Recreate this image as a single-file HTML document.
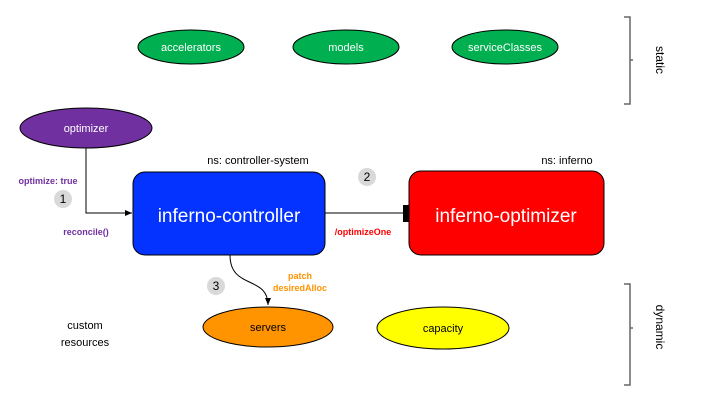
<!DOCTYPE html>
<html><head><meta charset="utf-8"><style>body{margin:0;background:#fff}svg{display:block}text{font-family:"Liberation Sans",Arial,sans-serif}</style></head><body>
<svg width="720" height="405" viewBox="0 0 720 405" xmlns="http://www.w3.org/2000/svg">
<defs><marker id="a" markerWidth="8" markerHeight="8" refX="7" refY="4" orient="auto" markerUnits="userSpaceOnUse"><path d="M0,1 L7,4 L0,7z" fill="#000"/></marker></defs>
<g stroke="#000" stroke-width="1">
<ellipse cx="191" cy="47" rx="53" ry="17" fill="#00b050"/>
<ellipse cx="346" cy="47" rx="53" ry="17" fill="#00b050"/>
<ellipse cx="505" cy="47" rx="53" ry="17" fill="#00b050"/>
<ellipse cx="86" cy="128" rx="66" ry="20" fill="#7030a0"/>
<ellipse cx="268" cy="327" rx="65" ry="20" fill="#ff9300"/>
<ellipse cx="443" cy="328" rx="66" ry="21" fill="#ffff00"/>
<rect x="133" y="172" width="192" height="83" rx="12" fill="#0433ff"/>
<rect x="409" y="171" width="195" height="84" rx="12" fill="#ff0000"/>
</g>
<path d="M86,148 V213 H132" fill="none" stroke="#000" marker-end="url(#a)"/>
<path d="M325,213 H403" fill="none" stroke="#000"/>
<rect x="403" y="205" width="6" height="17" fill="#000"/>
<path d="M230,255 C230,290 268,275 268,305" fill="none" stroke="#000" marker-end="url(#a)"/>
<g fill="none" stroke="#666" stroke-width="1.5">
<path d="M624,17 H630 V104 H624 M630,60 H633"/>
<path d="M624,284 H630 V385 H624 M630,328 H633"/>
</g>
<g fill="#d9d9d9"><circle cx="63" cy="199" r="9"/><circle cx="367" cy="177" r="9"/><circle cx="216" cy="286" r="9"/></g>
<g font-size="12" text-anchor="middle" fill="#000">
<text x="63" y="203">1</text><text x="367" y="181">2</text><text x="216" y="290">3</text>
<text x="191" y="51" fill="#fff" font-size="11">accelerators</text>
<text x="346" y="51" fill="#fff" font-size="11">models</text>
<text x="505" y="51" fill="#fff" font-size="11">serviceClasses</text>
<text x="86" y="132" fill="#fff" font-size="11">optimizer</text>
<text x="268" y="331" font-size="11">servers</text>
<text x="443" y="332" font-size="11">capacity</text>
<text x="229" y="222" fill="#fff" font-size="19">inferno-controller</text>
<text x="506" y="222" fill="#fff" font-size="19">inferno-optimizer</text>
<text x="258" y="164" font-size="11">ns: controller-system</text>
<text x="567" y="164" font-size="11">ns: inferno</text>
<text x="85" y="329" font-size="11">custom</text>
<text x="85" y="346" font-size="11">resources</text>
<g font-size="9" font-weight="bold">
<text x="48" y="184" fill="#7030a0">optimize: true</text>
<text x="86" y="235" fill="#7030a0">reconcile()</text>
<text x="363" y="235" fill="#ff0000">/optimizeOne</text>
<text x="300" y="279" fill="#ff9300">patch</text>
<text x="300" y="291" fill="#ff9300">desiredAlloc</text>
</g>
<text transform="translate(656,60) rotate(90)" font-size="12">static</text>
<text transform="translate(656,327) rotate(90)" font-size="12">dynamic</text>
</g>
</svg>
</body></html>
